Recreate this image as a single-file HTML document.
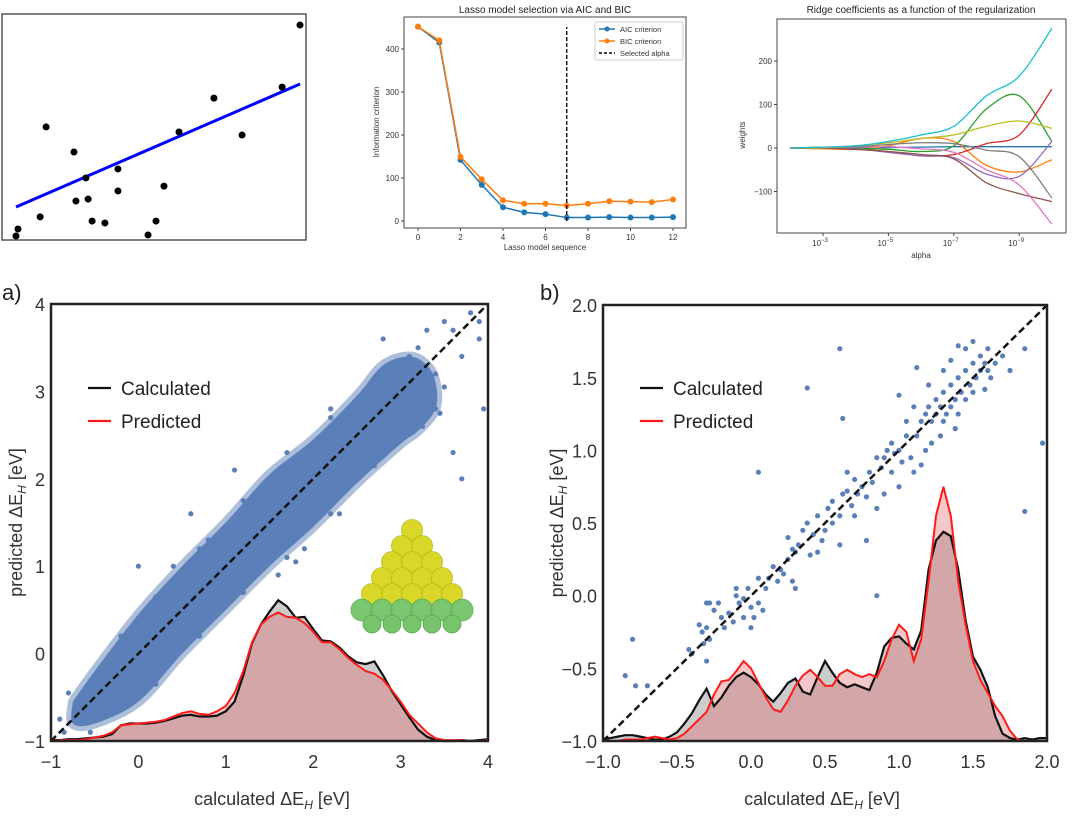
<!DOCTYPE html>
<html><head><meta charset="utf-8"><style>
html,body{margin:0;padding:0;background:#fff;}
svg{display:block;font-family:"Liberation Sans","DejaVu Sans",sans-serif;}
</style></head><body>
<svg id="fig" width="1080" height="823" viewBox="0 0 1080 823" xmlns="http://www.w3.org/2000/svg">
<g id="g-lin"></g>
<g id="g-lasso"></g>
<g id="g-ridge"></g>
<g id="g-a"></g>
<g id="g-b"></g>
</svg>
<script>
// ---------- data ----------
const linX=[10.0,9.37,6.97,1.06,5.74,7.96,2.04,3.59,2.46,3.59,5.21,2.11,2.54,0.85,2.68,3.13,4.93,4.65,0,0.07];
const linY=[9.77,6.95,6.45,5.14,4.91,4.77,4.0,3.23,2.82,2.23,2.45,1.77,1.86,1.05,0.86,0.77,0.86,0.23,0.18,0.5];
const linFit=[1.5,7.09];
const lassoSteps=[0,1,2,3,4,5,6,7,8,9,10,11,12];
const aicVals=[452,415,142,84,32,20,16,8,8,9,8,8,9];
const bicVals=[452,420,149,97,48,40,40,36,40,46,45,44,50];
const selectedStep=7;
const lassoYTicks=[0,100,200,300,400];
const lassoXTicks=[0,2,4,6,8,10,12];
const ridgeExp=[-2,-3,-4,-5,-6,-7,-8,-9,-10];
const ridgeTicks=[-3,-5,-7,-9];
const ridgeYTicks=[-100,0,100,200];
const ridgeBlue=[0,0,0,1,2,3,3,3,3];
const ridgeOrange=[0,-2,-3,5,22,15,-40,-55,-27];
const ridgeGreen=[0,0,-1,-3,-8,5,90,120,15];
const ridgeRed=[0,0,-3,-8,-18,-15,10,30,135];
const ridgePurple=[0,0,-2,-10,-18,-22,-60,-65,15];
const ridgeBrown=[0,0,-3,-8,-15,-25,-80,-105,-123];
const ridgePink=[0,1,2,3,-2,-10,-50,-85,-175];
const ridgeGray=[0,2,3,8,12,10,-5,-20,-115];
const ridgeOlive=[0,1,5,12,22,30,50,62,45];
const ridgeCyan=[0,2,5,15,30,50,120,165,275];
const aTicks=[-1,0,1,2,3,4];
const kdeAX=[];for(let i=0;i<=50;i++)kdeAX.push(-1+i*0.1);
const kdeACalc=[-0.99,-0.99,-0.98,-0.98,-0.97,-0.96,-0.95,-0.92,-0.82,-0.80,-0.80,-0.80,-0.79,-0.77,-0.74,-0.71,-0.70,-0.72,-0.72,-0.71,-0.66,-0.55,-0.25,0.12,0.33,0.48,0.61,0.54,0.41,0.42,0.28,0.15,0.14,0.07,-0.03,-0.10,-0.12,-0.09,-0.25,-0.43,-0.58,-0.73,-0.87,-0.95,-0.99,-1.0,-1.0,-0.99,-1.0,-0.99,-0.98];
const kdeAPred=[-1,-0.99,-0.99,-0.99,-0.98,-0.96,-0.94,-0.90,-0.82,-0.81,-0.80,-0.79,-0.78,-0.76,-0.72,-0.68,-0.66,-0.69,-0.70,-0.66,-0.60,-0.45,-0.20,0.13,0.33,0.42,0.47,0.42,0.41,0.35,0.25,0.13,0.13,0.05,-0.05,-0.13,-0.20,-0.23,-0.30,-0.42,-0.55,-0.70,-0.80,-0.90,-0.97,-0.99,-0.99,-0.99,-1.0,-1.0,-0.99];
const bandUpperX=[-0.75,-0.5,0,0.5,1,1.5,2,2.5,2.8,3.1,3.3,3.4];
const bandUpperY=[-0.55,-0.2,0.45,1.0,1.5,2.05,2.45,2.95,3.3,3.4,3.3,3.1];
const bandLowerX=[3.4,3.2,3.0,2.5,2.0,1.5,1.0,0.5,0,-0.5,-0.75];
const bandLowerY=[2.8,2.55,2.4,1.95,1.45,1.0,0.5,0.0,-0.55,-0.8,-0.8];
const aPts=[[3.8,3.9],[3.6,3.7],[3.7,3.4],[3.9,3.6],[3.95,2.8],[3.5,3.8],[3.3,3.7],[2.8,3.6],[3.6,2.3],[3.4,2.8],[2.6,3.0],[2.2,2.8],[1.8,2.2],[0.6,1.6],[0.0,1.0],[1.2,0.7],[2.0,1.5],[3.7,2.0],[2.5,2.0],[-0.8,-0.45],[-0.6,-0.55],[-0.4,-0.2],[0.4,1.0],[1.1,2.1],[3.1,3.4],[3.0,2.5],[3.9,3.8],[3.2,3.5],[2.9,3.3],[3.35,3.0],[-0.9,-0.75],[-0.7,-0.7],[0.3,0.7],[0.8,1.3],[1.4,1.9],[1.9,1.2],[2.3,1.6],[2.7,2.4],[1.6,0.9],[1.7,1.1],[1.8,1.05],[1.65,1.2],[-0.2,0.2],[0.1,-0.3],[3.4,3.2],[3.25,2.6],[-0.3,-0.05],[0.2,0.65],[0.7,1.2],[1.2,1.75],[1.7,2.3],[2.2,2.7],[0.2,-0.35],[0.7,0.2],[1.2,0.7],[2.2,1.6],[2.7,2.15],[-0.55,-0.9],[-0.85,-0.9],[3.5,3.05],[3.45,2.75]];
const bTicks=[-1.0,-0.5,0.0,0.5,1.0,1.5,2.0];
const kdeBX=[];for(let i=0;i<=60;i++)kdeBX.push(-1+i*0.05);
const kdeBCalc=[-0.99,-0.98,-0.97,-0.96,-0.96,-0.97,-0.98,-0.99,-0.99,-0.97,-0.94,-0.88,-0.81,-0.72,-0.64,-0.76,-0.70,-0.62,-0.56,-0.53,-0.56,-0.61,-0.68,-0.73,-0.67,-0.60,-0.57,-0.66,-0.68,-0.56,-0.45,-0.53,-0.60,-0.63,-0.61,-0.63,-0.65,-0.53,-0.35,-0.29,-0.28,-0.33,-0.37,-0.24,0.18,0.38,0.44,0.41,0.18,-0.17,-0.42,-0.51,-0.63,-0.83,-0.95,-0.98,-0.99,-0.98,-0.99,-0.98,-0.98];
const kdeBPred=[-1,-1,-1,-0.99,-0.99,-0.99,-0.98,-0.97,-0.98,-0.99,-0.98,-0.95,-0.90,-0.85,-0.80,-0.68,-0.59,-0.58,-0.52,-0.45,-0.50,-0.60,-0.70,-0.78,-0.80,-0.72,-0.62,-0.55,-0.51,-0.56,-0.62,-0.62,-0.54,-0.51,-0.54,-0.56,-0.54,-0.56,-0.45,-0.30,-0.20,-0.25,-0.45,-0.30,0.10,0.55,0.75,0.55,0.10,-0.20,-0.45,-0.58,-0.67,-0.76,-0.83,-0.93,-0.99,-1.0,-1.0,-1.0,-1.0];
const bPts=[[-0.85,-0.55],[-0.8,-0.3],[-0.78,-0.62],[-0.7,-0.62],[-0.4,-0.4],[-0.42,-0.37],[-0.3,-0.45],[0.05,0.85],[0.38,1.43],[0.6,1.7],[0.62,1.22],[0.85,0.0],[1.85,0.58],[1.97,1.05],[1.85,1.7],[1.0,1.38],[1.12,1.57],[0.78,0.38],[1.4,1.72],
[-0.35,-0.2],[-0.33,-0.25],[-0.3,-0.22],[-0.28,-0.3],[-0.32,-0.33],[-0.3,-0.05],[-0.28,-0.05],[-0.25,-0.1],[-0.2,-0.15],[-0.18,-0.22],[-0.15,-0.12],[-0.1,0.0],[-0.08,-0.05],[-0.1,0.05],[-0.05,-0.02],[-0.02,0.05],[0.0,-0.08],[0.02,-0.15],[0.05,-0.05],[0.0,-0.22],[0.08,-0.1],[0.1,0.05],[0.12,0.12],[0.15,0.2],[0.18,0.1],[0.2,0.18],[0.22,0.15],[0.25,0.25],[0.28,0.32],[0.3,0.3],[0.32,0.35],[0.35,0.45],[0.38,0.5],[0.3,0.05],[0.28,0.1],[0.4,0.28],[0.42,0.42],[0.45,0.55],[0.48,0.38],[0.5,0.45],[0.52,0.6],[0.55,0.65],[0.55,0.5],[0.6,0.55],[0.62,0.7],[0.65,0.72],[0.68,0.62],[0.7,0.8],[0.72,0.7],[0.75,0.75],[0.78,0.68],[0.8,0.85],[0.82,0.78],[0.85,0.6],[0.88,0.88],[0.9,0.95],[0.92,1.0],[0.95,1.05],[0.97,0.98],[1.0,1.0],[1.02,0.92],[1.05,1.1],[1.08,0.95],[1.1,0.85],[1.12,1.1],[1.15,1.2],[1.18,1.25],[1.2,1.3],[1.22,1.2],[1.25,1.35],[1.25,1.25],[1.28,1.3],[1.3,1.4],[1.3,1.2],[1.32,1.25],[1.35,1.45],[1.35,1.3],[1.38,1.35],[1.4,1.5],[1.4,1.25],[1.42,1.4],[1.45,1.55],[1.45,1.35],[1.48,1.45],[1.5,1.6],[1.5,1.4],[1.52,1.5],[1.55,1.65],[1.55,1.55],[1.58,1.6],[1.6,1.55],[1.6,1.7],[1.62,1.5],[1.22,1.05],[1.28,1.1],[1.18,1.0],[1.15,0.9],[0.95,0.85],[1.0,0.75],[0.6,0.35],[0.7,0.55],[1.7,1.65],[1.75,1.55],[1.3,1.55],[1.35,1.62],[1.45,1.7],[1.5,1.75],[-0.22,-0.05],[-0.12,-0.18],[0.05,0.12],[0.25,0.4],[0.45,0.3],[0.65,0.85],[0.85,0.95],[1.05,1.2],[1.2,1.45],[1.38,1.15],[1.58,1.42],[1.65,1.6],[0.9,0.7],[1.1,1.3],[-0.05,-0.15]];

// ---------- helpers ----------
const NS='http://www.w3.org/2000/svg';
function mk(parent,tag,attrs,text){const e=document.createElementNS(NS,tag);for(const k in attrs)e.setAttribute(k,attrs[k]);if(text!==undefined)e.textContent=text;parent.appendChild(e);return e;}
function smooth(pts){let d='M'+pts[0][0]+','+pts[0][1];for(let i=0;i<pts.length-1;i++){const p0=pts[Math.max(0,i-1)],p1=pts[i],p2=pts[i+1],p3=pts[Math.min(pts.length-1,i+2)];const c1=[p1[0]+(p2[0]-p0[0])/6,p1[1]+(p2[1]-p0[1])/6],c2=[p2[0]-(p3[0]-p1[0])/6,p2[1]-(p3[1]-p1[1])/6];d+=' C'+c1[0]+','+c1[1]+' '+c2[0]+','+c2[1]+' '+p2[0]+','+p2[1];}return d;}

// ---------- linear regression ----------
(function(){const g=document.getElementById('g-lin');
const X=v=>16+v*28.4, Y=v=>240-v*22;
let e=mk(g,'rect',{x:2,y:14,width:304,height:226,fill:'none',stroke:'#555','stroke-width':1.5});

e=mk(g,'line',{x1:X(0),y1:Y(linFit[0]),x2:X(10),y2:Y(linFit[1]),stroke:'#0000ff','stroke-width':3});

linX.forEach((x,i)=>{const c=mk(g,'circle',{cx:X(x),cy:Y(linY[i]),r:3.5,fill:'#000'});

});
})();

// ---------- lasso ----------
(function(){const g=document.getElementById('g-lasso');
const X=v=>418+v*21.25, Y=v=>221-v*0.43;
let e=mk(g,'rect',{x:404,y:17,width:282,height:211,fill:'none',stroke:'#444','stroke-width':1});

e=mk(g,'text',{x:545,y:13,'font-size':10,'text-anchor':'middle',fill:'#222'},'Lasso model selection via AIC and BIC');

lassoYTicks.forEach(t=>{const l=mk(g,'line',{x1:401,x2:404,y1:Y(t),y2:Y(t),stroke:'#444'});
const tx=mk(g,'text',{x:399,y:Y(t)+3,'font-size':8,'text-anchor':'end',fill:'#333'},String(t));});
lassoXTicks.forEach(t=>{const l=mk(g,'line',{x1:X(t),x2:X(t),y1:228,y2:231,stroke:'#444'});
const tx=mk(g,'text',{x:X(t),y:240,'font-size':8,'text-anchor':'middle',fill:'#333'},String(t));});
e=mk(g,'text',{x:545,y:250,'font-size':8,'text-anchor':'middle',fill:'#333'},'Lasso model sequence');
e=mk(g,'text',{x:0,y:0,'font-size':8,'text-anchor':'middle',fill:'#333',transform:'translate(379,122) rotate(-90)'},'Information criterion');
[[aicVals,'#1f77b4','aic'],[bicVals,'#ff7f0e','bic']].forEach(([vals,col,nm])=>{
const p=mk(g,'polyline',{points:lassoSteps.map((s,i)=>X(s)+','+Y(vals[i])).join(' '),fill:'none',stroke:col,'stroke-width':1.5});

lassoSteps.forEach((s,i)=>{const c=mk(g,'circle',{cx:X(s),cy:Y(vals[i]),r:3,fill:col});});});
e=mk(g,'line',{x1:X(selectedStep),x2:X(selectedStep),y1:Y(0),y2:27,stroke:'#000','stroke-width':1.3,'stroke-dasharray':'4,2'});
const lg=mk(g,'g',{});
mk(lg,'rect',{x:595,y:22,width:88,height:38,rx:2,fill:'#fff',stroke:'#ccc'});
[['AIC criterion','#1f77b4',false],['BIC criterion','#ff7f0e',false],['Selected alpha','#000',true]].forEach(([t,c,d],i)=>{const y=29+i*12;
const l=mk(lg,'line',{x1:599,x2:615,y1:y,y2:y,stroke:c,'stroke-width':1.5,'stroke-dasharray':d?'3,2':'none'});
if(!d)mk(lg,'circle',{cx:607,cy:y,r:2.5,fill:c});
const tx=mk(lg,'text',{x:620,y:y+3,'font-size':7.5,fill:'#333'},t);});
})();

// ---------- ridge ----------
(function(){const g=document.getElementById('g-ridge');
const X=e=>823+(-3-e)*32.7, Y=v=>148-v*0.435;
let e=mk(g,'rect',{x:777,y:19,width:289,height:214,fill:'none',stroke:'#444','stroke-width':1});
e=mk(g,'text',{x:921,y:13,'font-size':10,'text-anchor':'middle',fill:'#222'},'Ridge coefficients as a function of the regularization');
ridgeYTicks.forEach(t=>{const tx=mk(g,'text',{x:772,y:Y(t)+3,'font-size':8,'text-anchor':'end',fill:'#333'},t<0?'\u2212'+(-t):String(t));
mk(g,'line',{x1:774,x2:777,y1:Y(t),y2:Y(t),stroke:'#444'});});
ridgeTicks.forEach(t=>{const tx=mk(g,'text',{x:X(t)-3,y:246,'font-size':8,'text-anchor':'middle',fill:'#333'},'10');
mk(tx,'tspan',{dy:-4,'font-size':6},'\u2212'+(-t));mk(g,'line',{x1:X(t),x2:X(t),y1:233,y2:236,stroke:'#444'});});
e=mk(g,'text',{x:921,y:258,'font-size':8,'text-anchor':'middle',fill:'#333'},'alpha');
e=mk(g,'text',{x:0,y:0,'font-size':8,'text-anchor':'middle',fill:'#333',transform:'translate(745,135) rotate(-90)'},'weights');
[[ridgeBlue,'#1f77b4'],[ridgeOrange,'#ff7f0e'],[ridgeGreen,'#2ca02c'],[ridgeRed,'#d62728'],[ridgePurple,'#9467bd'],[ridgeBrown,'#8c564b'],[ridgePink,'#e377c2'],[ridgeGray,'#7f7f7f'],[ridgeOlive,'#bcbd22'],[ridgeCyan,'#17becf']].forEach(([v,c])=>{
const p=mk(g,'path',{d:smooth(ridgeExp.map((x,i)=>[X(x),Y(v[i])])),fill:'none',stroke:c,'stroke-width':1.3});

});
})();

// ---------- panels a & b ----------
function panel(g,opt){
const {X,Y,ticks,fmt,x0,x1,y0,y1,label,lab,pts,kx,kc,kp,band,legX,ylabX,xlabCx}=opt;
let e=mk(g,'text',{x:lab[0],y:lab[1],'font-size':22,fill:'#222'},label);
if(band){const bp=band.map(p=>[X(p[0]),Y(p[1])]);
e=mk(g,'path',{d:smooth(bp.concat([bp[0]]))+' Z',fill:'#5b7fb8','fill-opacity':0.55,stroke:'#5b7fb8','stroke-opacity':0.5,'stroke-width':10,'stroke-linejoin':'round'});
e=mk(g,'path',{d:smooth(bp.concat([bp[0]]))+' Z',fill:'#5b7fb8'});}
pts.forEach(p=>{const c=mk(g,'circle',{cx:X(p[0]),cy:Y(p[1]),r:2.6,fill:'#5b7fb8'});

});
e=mk(g,'line',{x1:X(ticks[0]),y1:Y(ticks[0]),x2:X(ticks[ticks.length-1]),y2:Y(ticks[ticks.length-1]),stroke:'#111','stroke-width':2.5,'stroke-dasharray':'7,4'});
const base=Y(ticks[0]);
const area=v=>'M'+X(kx[0])+','+base+' '+kx.map((x,i)=>'L'+X(x)+','+Y(v[i])).join(' ')+' L'+X(kx[kx.length-1])+','+base+' Z';
const line=v=>kx.map((x,i)=>(i?'L':'M')+X(x)+','+Y(v[i])).join(' ');
e=mk(g,'path',{d:area(kc),fill:'#9a9a9a','fill-opacity':0.5});
e=mk(g,'path',{d:area(kp),fill:'#e06060','fill-opacity':0.35});
e=mk(g,'path',{d:line(kc),fill:'none',stroke:'#111','stroke-width':2.2});
e=mk(g,'path',{d:line(kp),fill:'none',stroke:'#ff1a1a','stroke-width':2});
e=mk(g,'rect',{x:x0,y:y0,width:x1-x0,height:y1-y0,fill:'none',stroke:'#222','stroke-width':2.5});
ticks.forEach(t=>{let tx=mk(g,'text',{x:X(t),y:y1+27,'font-size':18,'text-anchor':'middle',fill:'#333'},fmt(t));
tx=mk(g,'text',{x:x0-6,y:Y(t)+7,'font-size':18,'text-anchor':'end',fill:'#333'},fmt(t));});
e=mk(g,'text',{x:xlabCx,y:y1+64,'font-size':18,'text-anchor':'middle',fill:'#333'},'calculated \u0394E');mk(e,'tspan',{'font-size':12,dy:4,'font-style':'italic'},'H');mk(e,'tspan',{dy:-4},' [eV]');

e=mk(g,'text',{x:0,y:0,'font-size':18,'text-anchor':'middle',fill:'#333',transform:'translate('+ylabX+','+((y0+y1)/2)+') rotate(-90)'},'predicted \u0394E');mk(e,'tspan',{'font-size':12,dy:4,'font-style':'italic'},'H');mk(e,'tspan',{dy:-4},' [eV]');

const lg=mk(g,'g',{});
[['Calculated','#111'],['Predicted','#ff1a1a']].forEach(([t,c],i)=>{const y=388+i*33;
const l=mk(lg,'line',{x1:legX,x2:legX+23,y1:y,y2:y,stroke:c,'stroke-width':2.2});
const tx=mk(lg,'text',{x:legX+33,y:y+7,'font-size':19,fill:'#222'},t);});
}
const minus=s=>s.replace('-','\u2212');
const band=bandUpperX.map((x,i)=>[x,bandUpperY[i]]).concat(bandLowerX.map((x,i)=>[x,bandLowerY[i]]));
const gA=document.getElementById('g-a');
panel(gA,{X:v=>51+(v+1)*87.4,Y:v=>741-(v+1)*87.4,ticks:aTicks,fmt:t=>minus(String(t)),x0:51,x1:488,y0:304,y1:741,label:'a)',lab:[2,300],pts:aPts,kx:kdeAX,kc:kdeACalc,kp:kdeAPred,band:band,legX:88,ylabX:22,xlabCx:272});
// nanoparticle inset
(function(){const ig=mk(gA,'g',{});
const rows=[1,2,3,4,5,6];rows.forEach((n,r)=>{for(let k=0;k<n;k++){const cx=412+(k-(n-1)/2)*20,cy=530+r*16;mk(ig,'circle',{cx:cx,cy:cy,r:r==5?11:10.5,fill:r==5?'#74c46a':'#d7d61e',stroke:r==5?'#5aa850':'#b8b818','stroke-width':0.8,opacity:0.95});}});
for(let k=0;k<5;k++){mk(ig,'circle',{cx:412+(k-2)*20,cy:624,r:9,fill:'#77c46c',stroke:'#5aa850','stroke-width':0.8});}
})();
panel(document.getElementById('g-b'),{X:v=>603+(v+1)*148,Y:v=>741-(v+1)*145.3,ticks:bTicks,fmt:t=>minus(t.toFixed(1)),x0:603,x1:1047,y0:305,y1:741,label:'b)',lab:[540,300],pts:bPts,kx:kdeBX,kc:kdeBCalc,kp:kdeBPred,band:null,legX:640,ylabX:563,xlabCx:822});
</script>
</body></html>
